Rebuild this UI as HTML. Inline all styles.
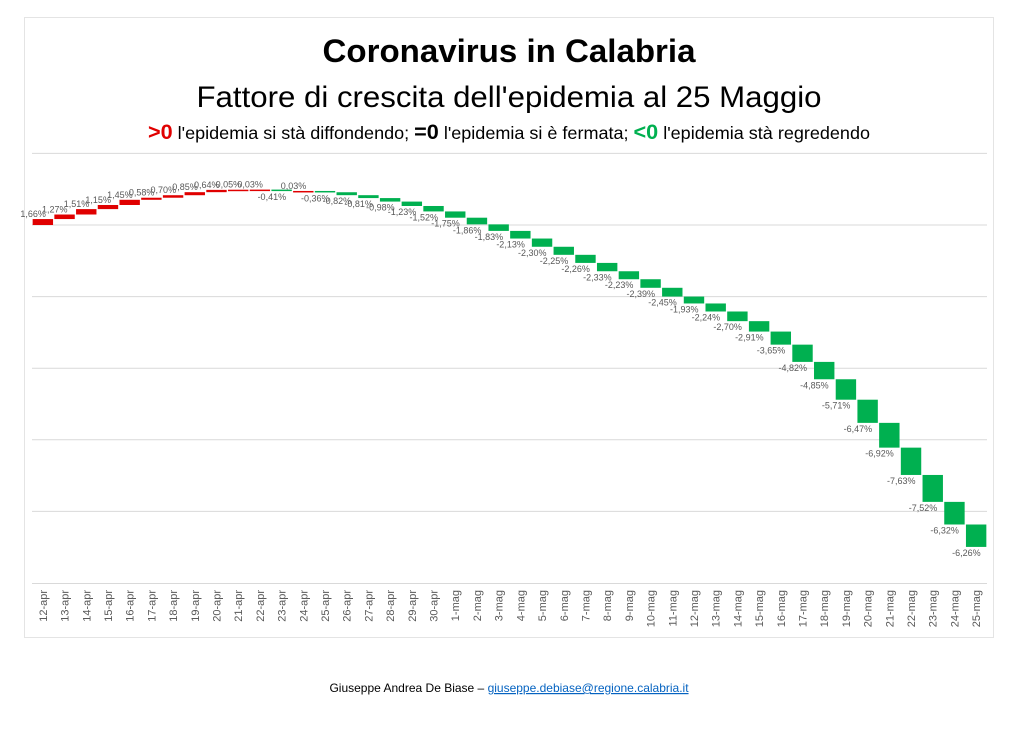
<!DOCTYPE html>
<html><head><meta charset="utf-8">
<style>
body{margin:0;background:#fff;width:1024px;height:725px;overflow:hidden;font-family:"Liberation Sans",sans-serif}
</style></head><body>
<svg width="1024" height="725" xmlns="http://www.w3.org/2000/svg">
<rect x="24.5" y="17.5" width="969" height="620" fill="#fff" stroke="#e4e4e4"/>
<text x="509" y="62" text-anchor="middle" font-size="32.5" font-weight="bold" fill="#000" textLength="373" lengthAdjust="spacingAndGlyphs">Coronavirus in Calabria</text>
<text x="509" y="107" text-anchor="middle" font-size="30" fill="#000" textLength="625" lengthAdjust="spacingAndGlyphs">Fattore di crescita dell'epidemia al 25 Maggio</text>
<text x="509" y="139" text-anchor="middle" font-size="17.5" fill="#000" textLength="722" lengthAdjust="spacingAndGlyphs"><tspan fill="#e00000" font-weight="bold" font-size="21">&gt;0</tspan> l'epidemia si stà diffondendo; <tspan font-weight="bold" font-size="21">=0</tspan> l'epidemia si è fermata; <tspan fill="#00b050" font-weight="bold" font-size="21">&lt;0</tspan> l'epidemia stà regredendo</text>
<g id="grid"></g>
<g id="bars"></g>
<g id="labels"></g>
<g id="xlabels"></g>
<text x="509" y="692" text-anchor="middle" font-size="12" fill="#000">Giuseppe Andrea De Biase – <tspan fill="#0563c1" text-decoration="underline">giuseppe.debiase@regione.calabria.it</tspan></text>
</svg>
<script>
const categories=["12-apr","13-apr","14-apr","15-apr","16-apr","17-apr","18-apr","19-apr","20-apr","21-apr","22-apr","23-apr","24-apr","25-apr","26-apr","27-apr","28-apr","29-apr","30-apr","1-mag","2-mag","3-mag","4-mag","5-mag","6-mag","7-mag","8-mag","9-mag","10-mag","11-mag","12-mag","13-mag","14-mag","15-mag","16-mag","17-mag","18-mag","19-mag","20-mag","21-mag","22-mag","23-mag","24-mag","25-mag"];
const values=[1.66,1.27,1.51,1.15,1.45,0.58,0.70,0.85,0.64,0.05,0.03,-0.41,0.03,-0.36,-0.82,-0.81,-0.98,-1.23,-1.52,-1.75,-1.86,-1.83,-2.13,-2.30,-2.25,-2.26,-2.33,-2.23,-2.39,-2.45,-1.93,-2.24,-2.70,-2.91,-3.65,-4.82,-4.85,-5.71,-6.47,-6.92,-7.63,-7.52,-6.32,-6.26];
const gridTicks=[20,0,-20,-40,-60,-80];
const NS="http://www.w3.org/2000/svg";
const x0=32,x1=987,y0=225,pxPer=3.58;
const step=(x1-x0)/categories.length;
const xs=i=>x0+step*(i+0.5);
const ys=v=>y0-v*pxPer;
function mk(t,a,p){const e=document.createElementNS(NS,t);for(const k in a)e.setAttribute(k,a[k]);document.getElementById(p).appendChild(e);return e;}
gridTicks.forEach(t=>{
  const l=mk("line",{x1:x0,x2:x1,y1:ys(t),y2:ys(t),stroke:"#d9d9d9","stroke-width":1},"grid");
  
  
});
const ax=mk("line",{x1:x0,x2:x1,y1:ys(-100)+0.5,y2:ys(-100)+0.5,stroke:"#d9d9d9","stroke-width":1},"grid");


let cum=0;
const fmt=v=>v.toFixed(2).replace(".",",")+"%";
values.forEach((v,i)=>{
  const a=cum,b=cum+v;cum=b;
  const top=ys(Math.max(a,b)),bot=ys(Math.min(a,b));
  const h=Math.max(bot-top,1.5);
  const r=mk("rect",{x:xs(i)-step*0.47,y:top,width:step*0.94,height:h,fill:v>=0?"#e00000":"#00b050"},"bars");
  
  
  const ty=v>=0?top-2:top+h+9;
  const t=mk("text",{x:xs(i)-step*0.45,y:ty,"text-anchor":"middle","font-size":9,fill:"#595959"},"labels");
  t.textContent=fmt(v);
  
  
  const xl=mk("text",{transform:"translate("+(xs(i)+4)+",590) rotate(-90)","text-anchor":"end","font-size":11,fill:"#595959"},"xlabels");
  xl.textContent=categories[i];
  
  
});
</script>
</body></html>
